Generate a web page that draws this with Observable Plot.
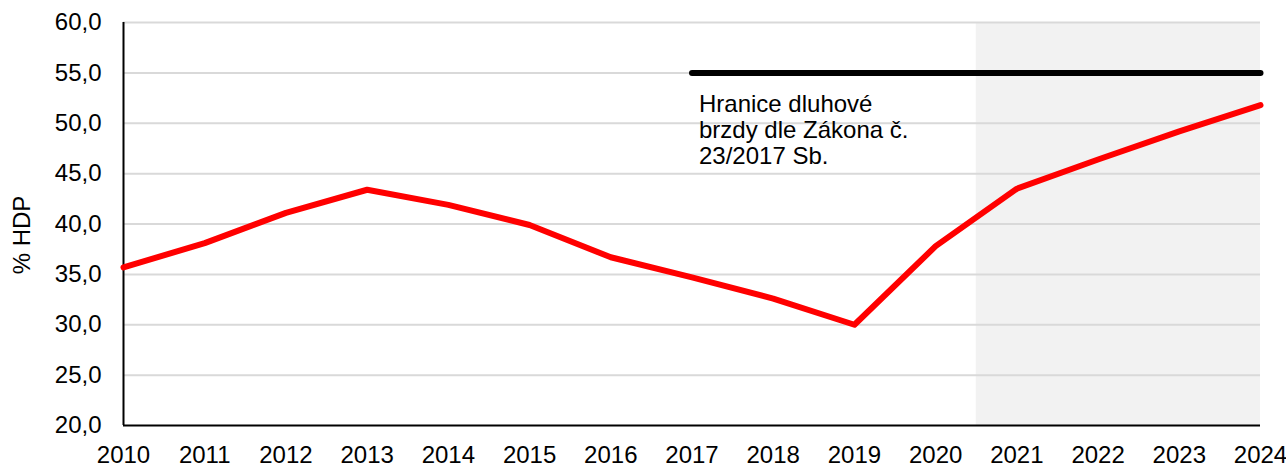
<!DOCTYPE html>
<html>
<head>
<meta charset="utf-8">
<script src="https://cdn.jsdelivr.net/npm/d3@7"></script>
<script src="https://cdn.jsdelivr.net/npm/@observablehq/plot@0.6"></script>
<style>
  html, body { margin: 0; padding: 0; background: #fff; }
  #chart svg { display: block; }
</style>
</head>
<body>
<div id="chart"></div>
<script>
const years = [2010, 2011, 2012, 2013, 2014, 2015, 2016, 2017, 2018, 2019, 2020, 2021, 2022, 2023, 2024];
const debt = [35.7, 38.1, 41.1, 43.4, 41.9, 39.9, 36.7, 34.7, 32.6, 30.0, 37.8, 43.5, 46.4, 49.2, 51.8];
const brakeYears = [2017, 2024];
const brakeLimit = 55;
const forecastFrom = 2020.5;
const forecastTo = 2024;
const yTicks = [20, 25, 30, 35, 40, 45, 50, 55, 60];
const xTicks = years;
const yLabel = "% HDP";
const noteText = "Hranice dluhové\nbrzdy dle Zákona č.\n23/2017 Sb.";

const debtData = years.map((y, i) => ({year: y, value: debt[i]}));
const brakeData = brakeYears.map(y => ({year: y, value: brakeLimit}));

const fmt = d => d.toFixed(1).replace(".", ",");

const chart = Plot.plot({
  width: 1286,
  height: 465,
  marginLeft: 123,
  marginRight: 26,
  marginTop: 22,
  marginBottom: 40,
  style: {fontFamily: "'Liberation Sans', Arial, sans-serif", fontSize: "24px", color: "#000", background: "#fff"},
  x: {domain: [2010, 2024], ticks: xTicks, tickFormat: d => String(d), tickSize: 0, tickPadding: 20, label: null},
  y: {domain: [20, 60], ticks: yTicks, tickFormat: fmt, tickSize: 0, tickPadding: 22, label: null},
  marks: [
    Plot.rect([{x1: forecastFrom, x2: forecastTo}], {x1: "x1", x2: "x2", y1: 20, y2: 60, fill: "#f2f2f2"}),
    Plot.ruleY(yTicks.filter(t => t > 20), {stroke: "#d9d9d9", strokeWidth: 2}),
    Plot.axisX({ticks: xTicks, tickFormat: d => String(d), tickSize: 0, tickPadding: 20, fontSize: 24, label: null}),
    Plot.axisY({ticks: yTicks, tickFormat: fmt, tickSize: 0, tickPadding: 22, fontSize: 24, label: null}),
    Plot.ruleX([2010], {stroke: "#000", strokeWidth: 2}),
    Plot.ruleY([20], {stroke: "#000", strokeWidth: 2}),
    Plot.line(brakeData, {x: "year", y: "value", stroke: "#000", strokeWidth: 6, strokeLinecap: "round"}),
    Plot.line(debtData, {x: "year", y: "value", stroke: "#ff0000", strokeWidth: 6, strokeLinejoin: "round"}),
    Plot.text([noteText], {x: brakeYears[0], y: brakeLimit, text: d => d, textAnchor: "start", lineAnchor: "top", lineHeight: 1.085, dx: 7, dy: 21, fontSize: 24, fill: "#000"}),
    Plot.text([yLabel], {frameAnchor: "left", text: d => d, rotate: -90, textAnchor: "middle", lineAnchor: "middle", dx: -101, dy: 11, fontSize: 24, fill: "#000"})
  ]
});
document.getElementById("chart").appendChild(chart);
</script>
</body>
</html>
